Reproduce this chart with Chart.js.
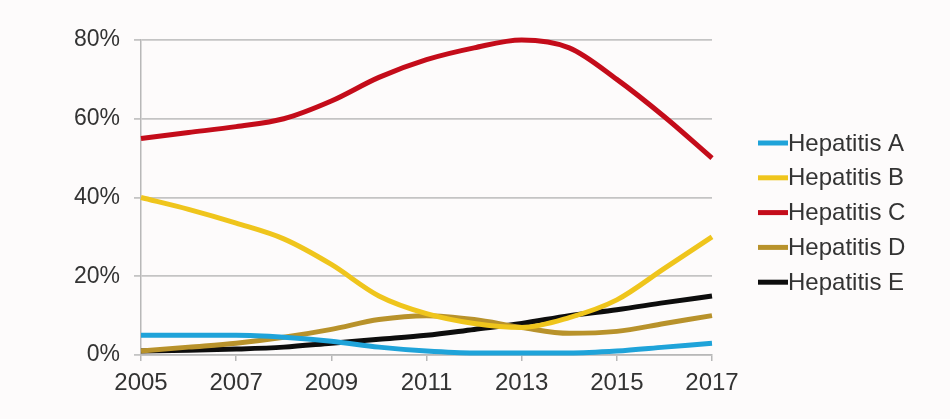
<!DOCTYPE html>
<html>
<head>
<meta charset="utf-8">
<script src="https://cdn.jsdelivr.net/npm/chart.js@4.4.1/dist/chart.umd.min.js"></script>
<style>
  html, body { margin: 0; padding: 0; background: #fdfbfb; }
  #wrap { width: 950px; height: 419px; }
</style>
</head>
<body>
<div id="wrap"><canvas id="c" width="950" height="419"></canvas></div>
<script>
// ---- data ----
const years = [2005, 2006, 2007, 2008, 2009, 2010, 2011, 2012, 2013, 2014, 2015, 2016, 2017];
const seriesNames = ["Hepatitis A", "Hepatitis B", "Hepatitis C", "Hepatitis D", "Hepatitis E"];
const hepA = [5, 5, 5, 4.5, 3.5, 2, 1, 0.5, 0.5, 0.5, 1, 2, 3];
const hepB = [40, 37, 33.5, 29.5, 23, 15, 10.5, 8, 7, 9.5, 14, 22, 30];
const hepC = [55, 56.5, 58, 60, 64.5, 70.5, 75, 78, 80, 78, 70, 60.5, 50];
const hepD = [1, 2, 3, 4.5, 6.5, 9, 10, 9, 7, 5.5, 6, 8, 10];
const hepE = [1, 1.2, 1.5, 2, 3, 4, 5, 6.5, 8, 10, 11.5, 13.3, 15];
const yTicks = [0, 20, 40, 60, 80];
const xTicks = [2005, 2007, 2009, 2011, 2013, 2015, 2017];

const colors = ["#1fa3d9", "#efc51c", "#c40c1a", "#b8922b", "#0d0d0d"];
const allSeries = [hepA, hepB, hepC, hepD, hepE];

const FONT = "'Liberation Sans', Arial, sans-serif";
const TEXT = "#333333";

const datasets = allSeries.map((vals, i) => ({
  label: seriesNames[i],
  data: years.map((y, j) => ({ x: y, y: vals[j] })),
  borderColor: colors[i],
  backgroundColor: colors[i],
  borderWidth: 5,
  pointRadius: 0,
  cubicInterpolationMode: 'monotone',
  fill: false,
  clip: 10
}));

const legendPlugin = {
  id: 'sideLegend',
  afterDraw(chart) {
    const ctx = chart.ctx;
    ctx.save();
    chart.data.datasets.forEach((ds, i) => {
      const y = 143 + i * 34.8;
      ctx.strokeStyle = ds.borderColor;
      ctx.lineWidth = 5;
      ctx.lineCap = 'butt';
      ctx.beginPath();
      ctx.moveTo(758, y);
      ctx.lineTo(788, y);
      ctx.stroke();
      ctx.fillStyle = TEXT;
      ctx.font = "24px " + FONT;
      ctx.textBaseline = 'middle';
      ctx.textAlign = 'left';
      ctx.fillText(ds.label, 788, y + 1);
    });
    ctx.restore();
  }
};

new Chart(document.getElementById('c'), {
  type: 'line',
  data: { datasets },
  options: {
    responsive: false,
    animation: false,
    layout: { padding: { left: 0, right: 238, top: 40, bottom: 0 } },
    plugins: {
      legend: { display: false },
      tooltip: { enabled: false }
    },
    scales: {
      x: {
        type: 'linear',
        min: 2005,
        max: 2017,
        afterBuildTicks(scale) { scale.ticks = xTicks.map(v => ({ value: v })); },
        afterFit(scale) { scale.height = 64; },
        ticks: {
          callback: v => String(v),
          color: TEXT,
          font: { family: FONT, size: 24 },
          padding: 8,
          maxRotation: 0
        },
        grid: {
          drawOnChartArea: false,
          drawTicks: true,
          tickLength: 6,
          color: "#b8b8b8",
          lineWidth: 1.5
        },
        border: { display: true, color: "#b8b8b8", width: 1.5 }
      },
      y: {
        min: 0,
        max: 80,
        afterBuildTicks(scale) { scale.ticks = yTicks.map(v => ({ value: v })); },
        afterFit(scale) { scale.width = 141; },
        ticks: {
          callback: v => v + "%",
          color: TEXT,
          font: { family: FONT, size: 23 },
          padding: 14
        },
        grid: {
          color: "#c4c4c4",
          lineWidth: 1.8,
          tickLength: 7
        },
        border: { display: true, color: "#b8b8b8", width: 1.5 }
      }
    }
  },
  plugins: [legendPlugin]
});
</script>
</body>
</html>
